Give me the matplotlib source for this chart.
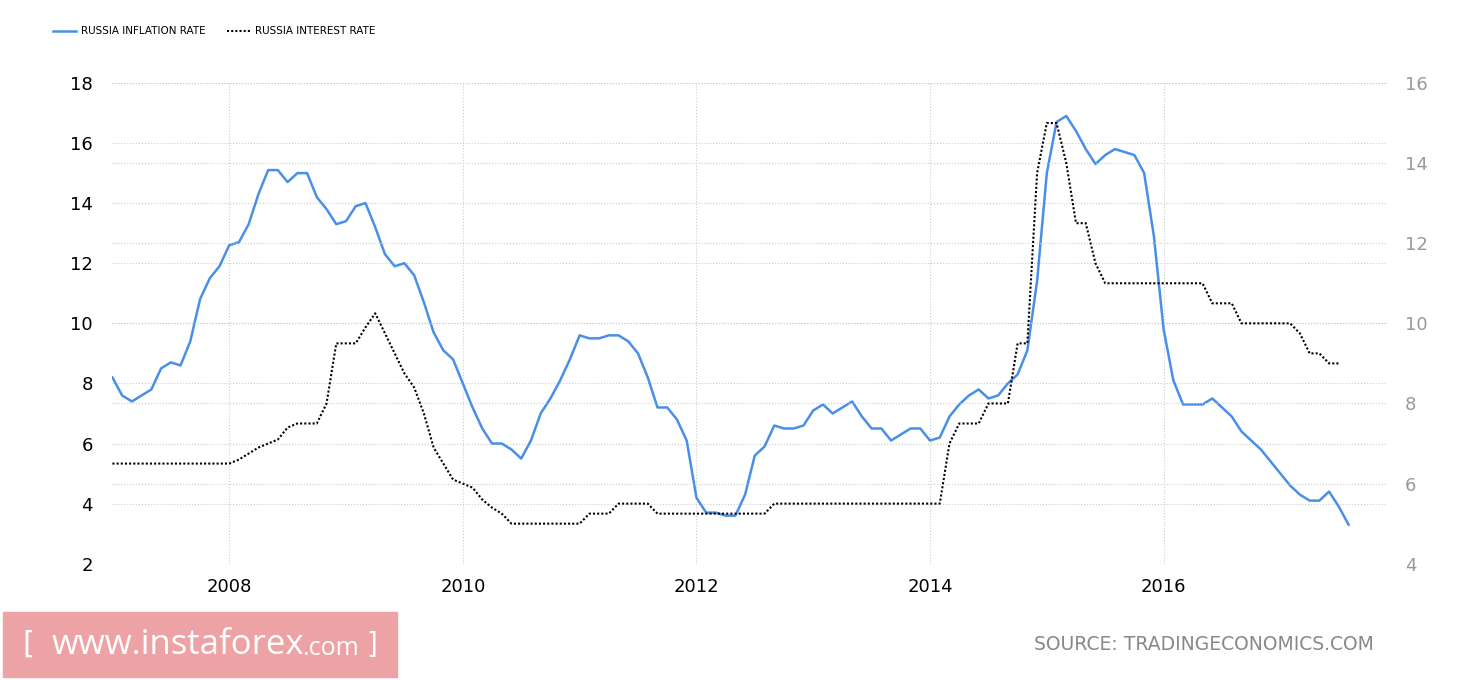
import numpy as np
import matplotlib.pyplot as plt
from matplotlib.patches import Rectangle

inflation = [8.2, 7.6, 7.4, 7.6, 7.8, 8.5, 8.7, 8.6, 9.4, 10.8, 11.5, 11.9,
             12.6, 12.7, 13.3, 14.3, 15.1, 15.1, 14.7, 15.0, 15.0, 14.2, 13.8, 13.3,
             13.4, 13.9, 14.0, 13.2, 12.3, 11.9, 12.0, 11.6, 10.7, 9.7, 9.1, 8.8,
             8.0, 7.2, 6.5, 6.0, 6.0, 5.8, 5.5, 6.1, 7.0, 7.5, 8.1, 8.8,
             9.6, 9.5, 9.5, 9.6, 9.6, 9.4, 9.0, 8.2, 7.2, 7.2, 6.8, 6.1,
             4.2, 3.7, 3.7, 3.6, 3.6, 4.3, 5.6, 5.9, 6.6, 6.5, 6.5, 6.6,
             7.1, 7.3, 7.0, 7.2, 7.4, 6.9, 6.5, 6.5, 6.1, 6.3, 6.5, 6.5,
             6.1, 6.2, 6.9, 7.3, 7.6, 7.8, 7.5, 7.6, 8.0, 8.3, 9.1, 11.4,
             15.0, 16.7, 16.9, 16.4, 15.8, 15.3, 15.6, 15.8, 15.7, 15.6, 15.0, 12.9,
             9.8, 8.1, 7.3, 7.3, 7.3, 7.5, 7.2, 6.9, 6.4, 6.1, 5.8, 5.4,
             5.0, 4.6, 4.3, 4.1, 4.1, 4.4, 3.9, 3.3]

interest = [6.5] * 12 + \
    [6.5, 6.6, 6.75, 6.9, 7.0, 7.1, 7.4, 7.5, 7.5, 7.5, 8.0, 9.5,
     9.5, 9.5, 9.9, 10.25, 9.75, 9.25, 8.75, 8.4, 7.75, 6.9, 6.5, 6.1,
     6.0, 5.9, 5.6, 5.4, 5.25, 5.0, 5.0, 5.0, 5.0, 5.0, 5.0, 5.0,
     5.0, 5.25, 5.25, 5.25, 5.5, 5.5, 5.5, 5.5, 5.25, 5.25, 5.25, 5.25,
     5.25, 5.25, 5.25, 5.25, 5.25, 5.25, 5.25, 5.25, 5.5, 5.5, 5.5, 5.5] + \
    [5.5] * 12 + \
    [5.5, 5.5, 7.0, 7.5, 7.5, 7.5, 8.0, 8.0, 8.0, 9.5, 9.5, 13.75,
     15.0, 15.0, 14.0, 12.5, 12.5, 11.5, 11.0, 11.0, 11.0, 11.0, 11.0, 11.0,
     11.0, 11.0, 11.0, 11.0, 11.0, 10.5, 10.5, 10.5, 10.0, 10.0, 10.0, 10.0,
     10.0, 10.0, 9.75, 9.25, 9.25, 9.0, 9.0]

t_inf = 2007 + np.arange(len(inflation)) / 12
t_int = 2007 + np.arange(len(interest)) / 12

fig = plt.figure(figsize=(14.6, 6.8), dpi=100)
ax = fig.add_axes([0.077, 0.171, 0.872, 0.707])
ax2 = ax.twinx()

ax.plot(t_inf, inflation, color='#4a8fe7', lw=1.8, label='RUSSIA INFLATION RATE')
ax2.plot(t_int, interest, color='black', lw=1.5, ls=(0, (1, 1)), label='RUSSIA INTEREST RATE')

ax.set_xlim(2007, 2017.9)
ax.set_ylim(2, 18)
ax2.set_ylim(4, 16)
ax.set_yticks(range(2, 19, 2))
ax2.set_yticks(range(4, 17, 2))
ax.set_xticks([2008, 2010, 2012, 2014, 2016])
ax.grid(True, color='#cccccc', ls=':', lw=0.8)
ax2.grid(True, axis='y', color='#cccccc', ls=':', lw=0.8)
for a in (ax, ax2):
    for s in a.spines.values():
        s.set_visible(False)
    a.tick_params(length=0, labelsize=13)
ax.tick_params(axis='y', pad=14)
ax2.tick_params(axis='y', colors='#999999', pad=14)
ax.tick_params(axis='x', pad=10)

h1, l1 = ax.get_legend_handles_labels()
h2, l2 = ax2.get_legend_handles_labels()
fig.legend(h1 + h2, l1 + l2, loc='upper left', bbox_to_anchor=(0.03, 0.975),
           ncol=2, frameon=False, fontsize=7.5, handlelength=2.2, columnspacing=2.0,
           handletextpad=0.5)

fig.patches.append(Rectangle((3 / 1460, 3 / 680), 394 / 1460, 65 / 680,
                             transform=fig.transFigure, color='#eda3a6', zorder=0))
fig.text(22 / 1460, 0.052, '[', color='white', fontsize=22, va='center', ha='left')
fig.text(52 / 1460, 0.052, 'www.instaforex', color='white', fontsize=25,
         va='center', ha='left', family='Open Sans')
fig.text(302 / 1460, 0.046, '.com', color='white', fontsize=18, va='center', ha='left',
         family='Open Sans')
fig.text(366 / 1460, 0.052, ']', color='white', fontsize=20, va='center', ha='left')
fig.text(0.941, 0.052, 'SOURCE: TRADINGECONOMICS.COM', color='#888888', fontsize=13.5,
         va='center', ha='right')

fig.savefig('out.png')
